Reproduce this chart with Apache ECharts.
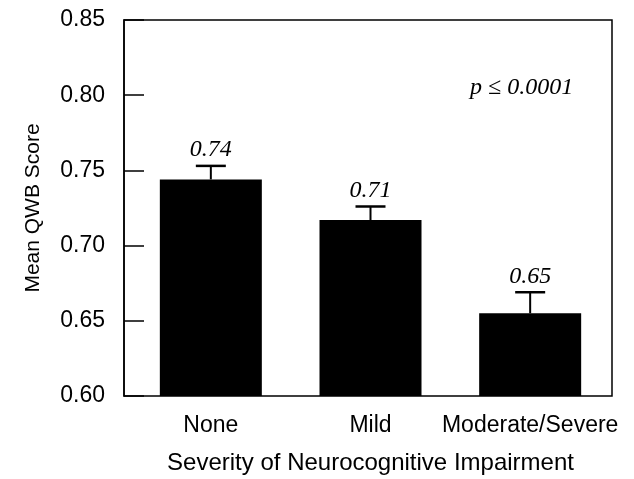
<!DOCTYPE html>
<html>
<head>
<meta charset="utf-8">
<script src="https://cdn.jsdelivr.net/npm/echarts@6/dist/echarts.min.js"></script>
<style>
html,body{margin:0;padding:0;background:#fff;}
#chart{width:634px;height:479px;}
</style>
</head>
<body>
<div id="chart"></div>
<script>
const categories = ['None', 'Mild', 'Moderate/Severe'];
const means = [0.744, 0.717, 0.655];
const errorTops = [0.753, 0.726, 0.669];
const valueLabels = ['0.74', '0.71', '0.65'];
const yMin = 0.60, yMax = 0.85, yStep = 0.05;
const pText = 'p \u2264 0.0001';

const SANS = 'Liberation Sans, Arial, sans-serif';
const SERIF = 'Liberation Serif, Times New Roman, serif';

const chart = echarts.init(document.getElementById('chart'));

const errData = categories.map((c, i) => [i, means[i], errorTops[i], valueLabels[i]]);

chart.setOption({
  animation: false,
  backgroundColor: '#fff',
  title: {
    text: pText,
    left: 465, top: 71,
    textStyle: {fontFamily: SERIF, fontStyle: 'italic', fontWeight: 'normal', fontSize: 24, color: '#000'}
  },
  grid: [
    {left: 124, top: 20, width: 488, height: 376, show: true, borderColor: '#000', borderWidth: 1.5, backgroundColor: 'transparent', containLabel: false, outerBoundsMode: 'none'},
    {left: 131, top: 20, width: 479, height: 376, containLabel: false, outerBoundsMode: 'none'}
  ],
  xAxis: [
    {gridIndex: 0, type: 'value', min: 0, max: 1, show: false},
    {
      gridIndex: 1, type: 'category', data: categories,
      axisLine: {show: false}, axisTick: {show: false},
      axisLabel: {fontFamily: SANS, fontSize: 23, color: '#000', margin: 18, interval: 0, hideOverlap: false},
      name: 'Severity of Neurocognitive Impairment',
      nameLocation: 'middle', nameGap: 55,
      nameTextStyle: {fontFamily: SANS, fontSize: 24, color: '#000'}
    }
  ],
  yAxis: [
    {
      gridIndex: 0, type: 'value', min: yMin, max: yMax, interval: yStep,
      axisLine: {show: true, lineStyle: {color: '#000', width: 1.5}},
      axisTick: {show: true, inside: true, length: 20, lineStyle: {color: '#000', width: 1.5}},
      splitLine: {show: false},
      axisLabel: {fontFamily: SANS, fontSize: 23, color: '#000', margin: 19, formatter: v => v.toFixed(2)},
      name: 'Mean QWB Score', nameLocation: 'middle', nameGap: 80, nameRotate: 90,
      nameTextStyle: {fontFamily: SANS, fontSize: 21, color: '#000'}
    },
    {gridIndex: 1, type: 'value', min: yMin, max: yMax, interval: yStep, show: false}
  ],
  series: [
    {
      type: 'bar', xAxisIndex: 1, yAxisIndex: 1, data: means,
      barWidth: 102, itemStyle: {color: '#000'}
    },
    {
      type: 'custom', xAxisIndex: 1, yAxisIndex: 1, data: errData, z: 5,
      renderItem: function (params, api) {
        const x = api.value(0);
        const pBase = api.coord([x, api.value(1)]);
        const pTop = api.coord([x, api.value(2)]);
        const hw = 15;
        return {
          type: 'group',
          children: [
            {type: 'line', shape: {x1: pBase[0], y1: pBase[1], x2: pTop[0], y2: pTop[1]}, style: {stroke: '#000', lineWidth: 2}},
            {type: 'line', shape: {x1: pTop[0] - hw, y1: pTop[1], x2: pTop[0] + hw, y2: pTop[1]}, style: {stroke: '#000', lineWidth: 2.5}},
            {type: 'text', style: {text: valueLabels[params.dataIndex], x: pTop[0], y: pTop[1] - 4, align: 'center', verticalAlign: 'bottom',
              font: 'italic 24px ' + SERIF, fill: '#000'}}
          ]
        };
      }
    }
  ]
});
</script>
</body>
</html>
